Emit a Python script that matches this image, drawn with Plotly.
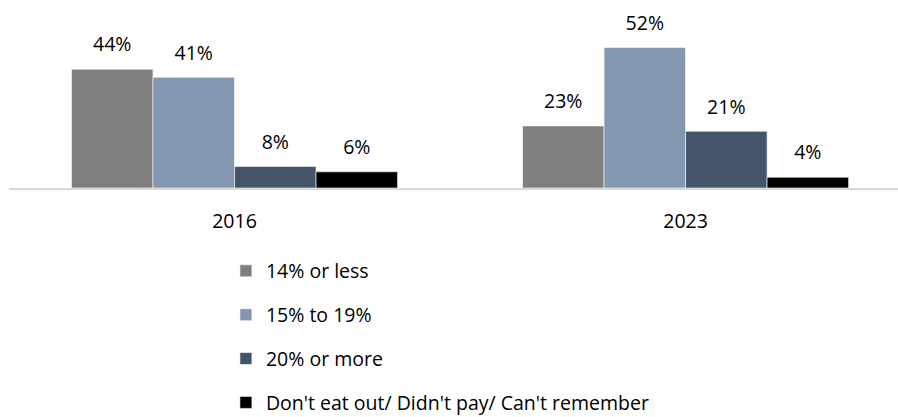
import plotly.graph_objects as go

years = ["2016", "2023"]
series_names = ["14% or less", "15% to 19%", "20% or more",
                "Don't eat out/ Didn't pay/ Can't remember"]
values_14_or_less = [44, 23]
values_15_to_19 = [41, 52]
values_20_or_more = [8, 21]
values_dont_eat_out = [6, 4]
colors = ["#7f7f7f", "#8497b0", "#44546a", "#000000"]

all_values = [values_14_or_less, values_15_to_19, values_20_or_more, values_dont_eat_out]

FONT = "'Open Sans', 'Noto Sans', sans-serif"
FS = 19.5
GAP = 0.277

fig = go.Figure()
for i, (name, vals, col) in enumerate(zip(series_names, all_values, colors)):
    fig.add_trace(go.Bar(
        x=years, y=vals, name=name,
        marker=dict(color=col, line=dict(color="#ffffff", width=0.6)),
        legendgroup=f"g{i}",
        offsetgroup=f"b{i}", alignmentgroup="bars",
        hoverinfo="skip",
    ))
for i, vals in enumerate(all_values):
    fig.add_trace(go.Scatter(
        x=years, y=vals, mode="markers+text",
        text=[f"{v}%" for v in vals],
        textposition="top center",
        textfont=dict(family=FONT, size=FS, color="#000000"),
        marker=dict(size=19, opacity=0),
        showlegend=False, cliponaxis=False,
        offsetgroup=f"s{i}", alignmentgroup="labels",
        hoverinfo="skip",
    ))

fig.update_layout(
    width=898, height=417,
    margin=dict(l=9, r=0, t=26, b=229, autoexpand=False),
    paper_bgcolor="white", plot_bgcolor="white",
    barmode="group", bargap=GAP, bargroupgap=0,
    scattermode="group", scattergap=GAP,
    font=dict(family=FONT, size=FS, color="#000000"),
    showlegend=True,
    legend=dict(
        orientation="v", x=0.244, xanchor="left", y=-0.393, yanchor="top",
        traceorder="grouped", tracegroupgap=15.5,
        font=dict(family=FONT, size=FS, color="#000000"),
        itemwidth=30,
    ),
    xaxis=dict(
        type="category", range=[-0.5, 1.471],
        showline=True, linecolor="#d9d9d9", linewidth=1.5,
        showgrid=False, ticks="", ticklabelstandoff=15,
        tickfont=dict(family=FONT, size=FS, color="#000000"),
    ),
    yaxis=dict(range=[0, 60], visible=False, showgrid=False, zeroline=False),
)

fig.write_html("out.html", config={"displayModeBar": False},
               post_script="document.body.style.margin='0';document.body.style.overflow='hidden';")
